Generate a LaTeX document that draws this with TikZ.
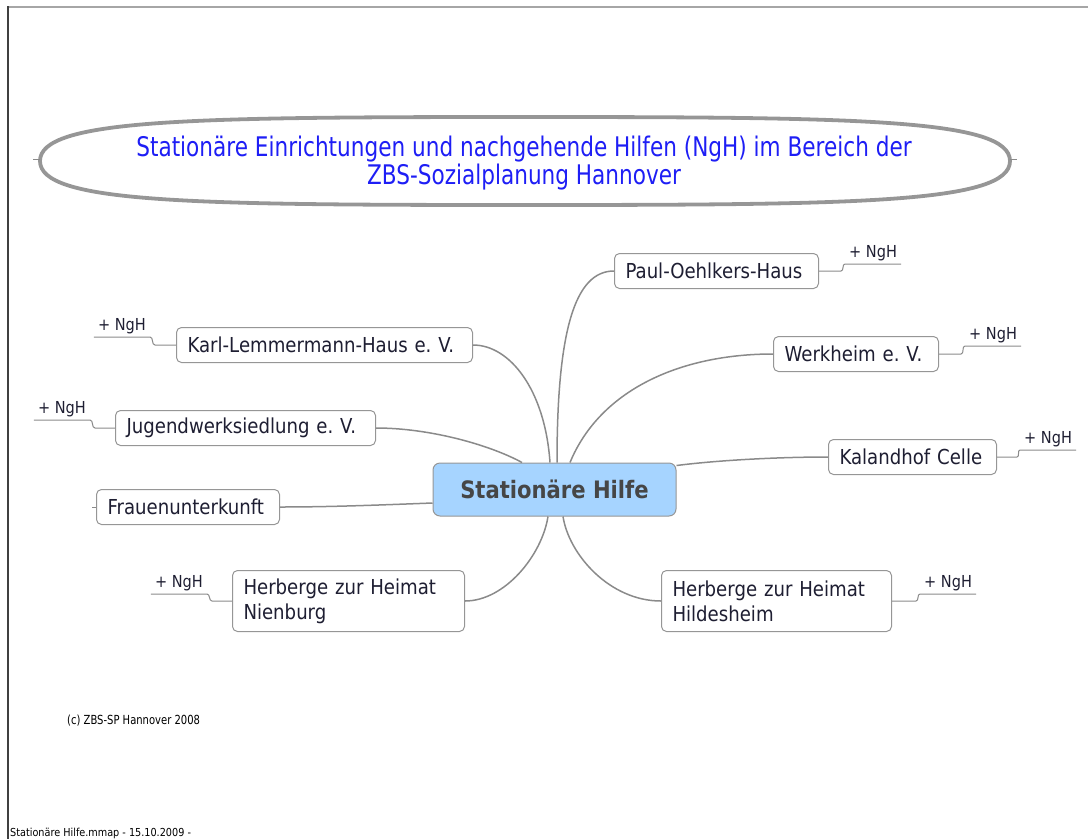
\documentclass[tikz,border=0pt]{standalone}
\usepackage{fontspec}
\setmainfont{DejaVu Sans}[FakeStretch=0.88]
\newfontfamily\titlefont{DejaVu Sans}[FakeStretch=0.8]
\usepackage{tikz}
\frenchspacing
\definecolor{linegray}{RGB}{138,138,138}
\definecolor{boxgray}{RGB}{150,150,150}
\definecolor{textdark}{RGB}{30,30,50}
\definecolor{titleblue}{RGB}{30,30,245}
\definecolor{hubblue}{RGB}{166,212,255}
\definecolor{hubtext}{RGB}{70,70,70}
\tikzstyle{topic} = [rectangle, rounded corners=5pt, draw=boxgray, line width=1pt, fill=white, inner xsep=11pt, minimum height=35pt, align=left, text=textdark, font=\fontsize{20.6}{25}\selectfont]
\tikzstyle{hub} = [rectangle, rounded corners=7pt, draw=boxgray, line width=1pt, fill=hubblue, minimum width=243pt, minimum height=53pt, text=hubtext, font=\bfseries\fontsize{24}{28}\selectfont]
\tikzstyle{ngh} = [inner xsep=4pt, inner ysep=3pt, text=textdark, font=\fontsize{16.5}{18}\selectfont]
\tikzstyle{branch} = [draw=linegray, line width=1.5pt]
\tikzstyle{stub} = [draw=linegray, line width=1pt]

\begin{document}
\begin{tikzpicture}[x=1pt,y=-1pt]
\useasboundingbox (0,0) rectangle (1088,839);
% page frame
\draw[gray!70, line width=2pt] (7,7) -- (1088,7);
\draw[black!75, line width=2pt] (8,6) -- (8,839);

% title
\draw[linegray!90, line width=3.8pt] (40,161) .. controls (40,119) and (190,117) .. (524,117)
  .. controls (858,117) and (1010,119) .. (1010,161)
  .. controls (1010,203) and (858,205) .. (524,205)
  .. controls (190,205) and (40,203) .. (40,161) -- cycle;
\draw[stub] (33,159) -- (40,159);
\draw[stub] (1010,159) -- (1017,159);
\node[text=titleblue, align=center, font=\titlefont\fontsize{27}{28}\selectfont] (title) at (524,163)
  {Stationäre Einrichtungen und nachgehende Hilfen (NgH) im Bereich der\\ZBS-Sozialplanung Hannover};

% central topic
\node[hub] (hub) at (554.5,489.5) {Stationäre Hilfe};

% right side
\node[topic, anchor=west, text width=182pt] (paul) at (614,271) {Paul-Oehlkers-Haus};
\node[topic, anchor=west, text width=143pt] (werk) at (773,354) {Werkheim e. V.};
\node[topic, anchor=west, text width=146pt] (kaland) at (828,457) {Kalandhof Celle};
\node[topic, anchor=west, text width=208pt, minimum height=61pt] (hildes) at (661,601) {Herberge zur Heimat\\Hildesheim};

% left side
\node[topic, anchor=west, text width=274pt] (karl) at (176,345) {Karl-Lemmermann-Haus e. V.};
\node[topic, anchor=west, text width=238pt] (jugend) at (115,428) {Jugendwerksiedlung e. V.};
\node[topic, anchor=west, text width=161pt] (frauen) at (96,507) {Frauenunterkunft};
\node[topic, anchor=west, text width=210pt, minimum height=61pt] (nienb) at (232,601) {Herberge zur Heimat\\Nienburg};

% branches
\draw[branch] ([xshift=2.5pt]hub.north) .. controls (557,330) and (575,271) .. (paul.west);
\draw[branch] ([xshift=15.5pt]hub.north) .. controls (600,390) and (680,354) .. (werk.west);
\draw[branch] ([yshift=-3pt]hub.north east) .. controls (720,460) and (780,457) .. (kaland.west);
\draw[branch] ([xshift=8.5pt]hub.south) .. controls (569,555) and (610,601) .. (hildes.west);
\draw[branch] ([xshift=-4.5pt]hub.north) .. controls (545,390) and (510,345) .. (karl.east);
\draw[branch] ([xshift=-32.5pt]hub.north) .. controls (490,445) and (430,428) .. (jugend.east);
\draw[branch] ([yshift=-13.5pt]hub.west) .. controls (380,505) and (330,507) .. (frauen.east);
\draw[branch] ([xshift=-6.5pt]hub.south) .. controls (542,555) and (505,601) .. (nienb.east);
\draw[stub] (frauen.west) -- ++(-4,0);

% + NgH labels
\node[ngh, anchor=south west] (paulngh) at (845,264) {+ NgH};
\node[ngh, anchor=south west] (werkngh) at (965,346) {+ NgH};
\node[ngh, anchor=south west] (kalandngh) at (1020,450) {+ NgH};
\node[ngh, anchor=south west] (hildesngh) at (920,594) {+ NgH};
\node[ngh, anchor=south east] (karlngh) at (150,337) {+ NgH};
\node[ngh, anchor=south east] (jugendngh) at (90,420) {+ NgH};
\node[ngh, anchor=south east] (nienbngh) at (207,594) {+ NgH};
\draw[stub] (paul.east) -- ++(22,0) to[out=0,in=180] (paulngh.south west) -- (paulngh.south east);
\draw[stub] (werk.east) -- ++(22,0) to[out=0,in=180] (werkngh.south west) -- (werkngh.south east);
\draw[stub] (kaland.east) -- ++(20,0) to[out=0,in=180] (kalandngh.south west) -- (kalandngh.south east);
\draw[stub] (hildes.east) -- ++(24,0) to[out=0,in=180] (hildesngh.south west) -- (hildesngh.south east);
\draw[stub] (karl.west) -- ++(-21,0) to[out=180,in=0] (karlngh.south east) -- (karlngh.south west);
\draw[stub] (jugend.west) -- ++(-20,0) to[out=180,in=0] (jugendngh.south east) -- (jugendngh.south west);
\draw[stub] (nienb.west) -- ++(-20,0) to[out=180,in=0] (nienbngh.south east) -- (nienbngh.south west);

% small print
\node[anchor=west, inner sep=0pt, font=\titlefont\fontsize{12.5}{15}\selectfont] (copy) at (67,721) {(c) ZBS-SP Hannover 2008};
\node[anchor=base west, inner sep=0pt, font=\fontsize{11}{13}\selectfont] (footer) at (10,836) {Stationäre Hilfe.mmap - 15.10.2009 -};
\end{tikzpicture}
\end{document}
